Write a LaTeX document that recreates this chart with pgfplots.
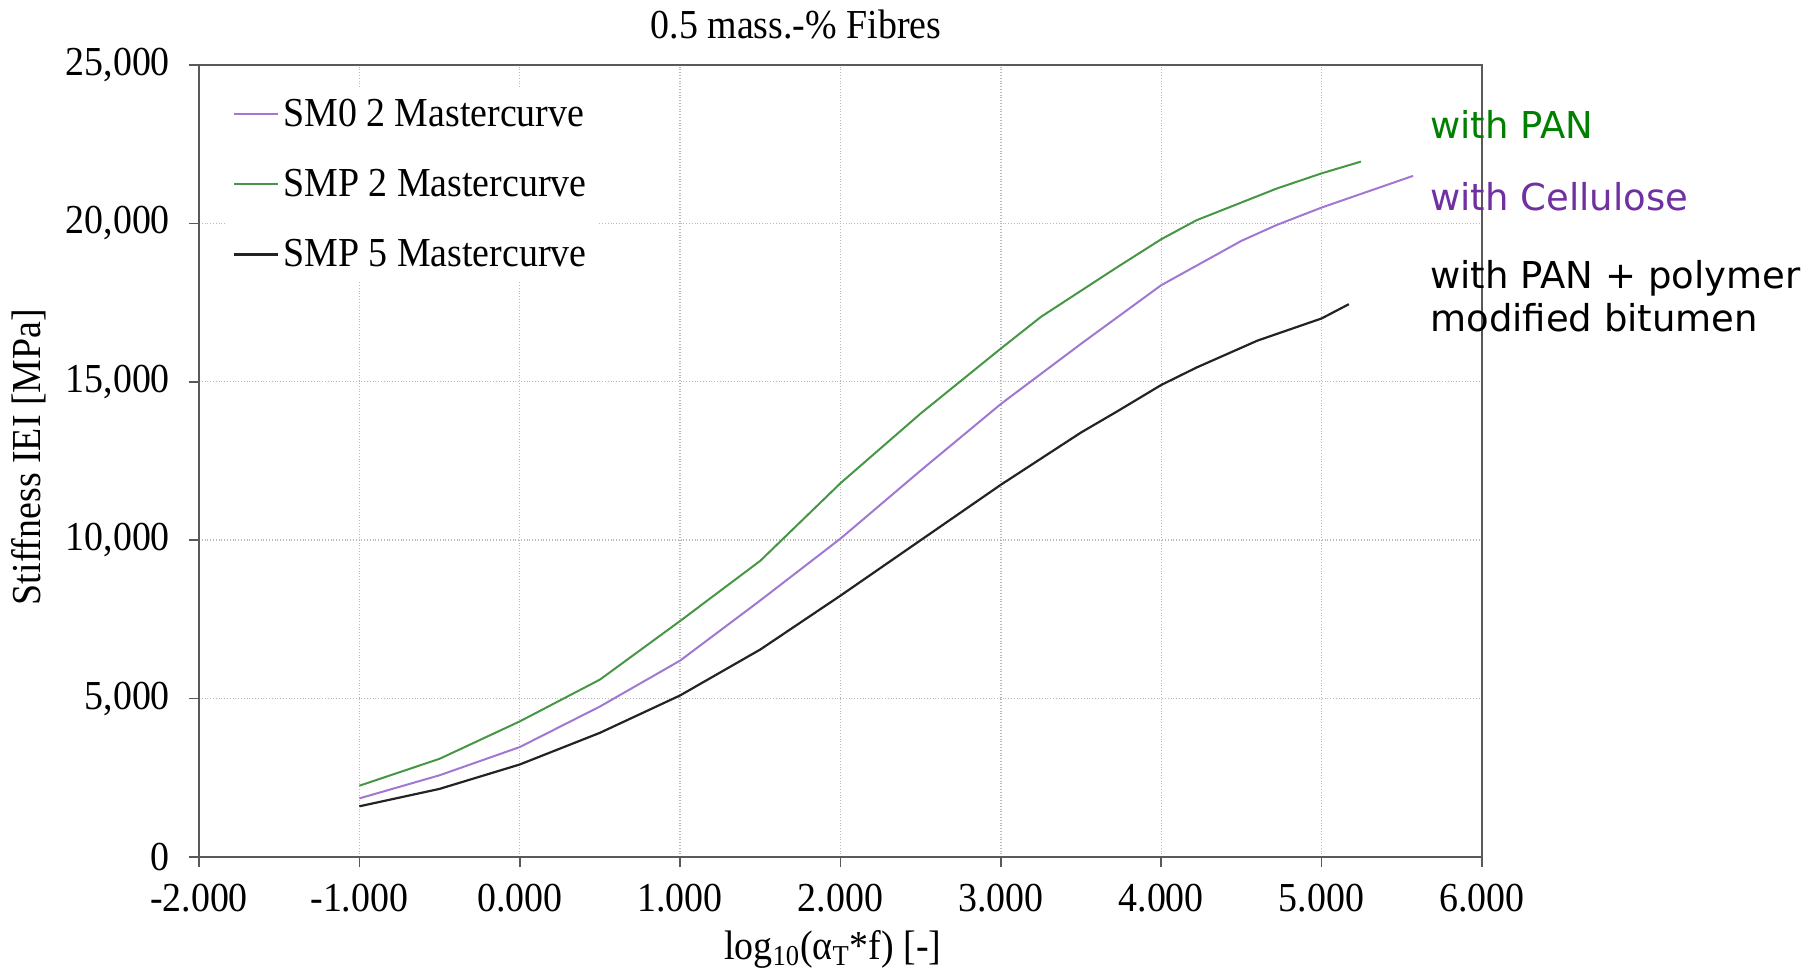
\documentclass[border=0pt]{standalone}
\usepackage{fontspec}
\setmainfont{Liberation Serif}[FakeStretch=0.92]
\newfontfamily\dejavu{DejaVu Sans}
\usepackage{pgfplots}
\pgfplotsset{compat=1.18}
\definecolor{cgreen}{RGB}{70,150,70}
\definecolor{cpurple}{RGB}{160,120,210}
\definecolor{cblack}{RGB}{35,35,35}
\definecolor{tgreen}{RGB}{0,128,0}
\definecolor{tpurple}{RGB}{112,48,160}
\newcommand{\fs}{\fontsize{20.6}{23}\selectfont}
\newcommand{\fa}{\dejavu\fontsize{18.5}{21.5}\selectfont}
\begin{document}
\begin{tikzpicture}
\useasboundingbox (-99.5pt,-59pt) rectangle (808pt,428.5pt);
\begin{axis}[
 at={(0,0)}, anchor=south west,
 width=641.5pt, height=396pt, scale only axis,
 xmin=-2, xmax=6, ymin=0, ymax=25000,
 xtick={-2,...,6}, ytick={0,5000,...,25000},
 scaled y ticks=false, scaled x ticks=false,
 font=\fs,
 x tick label style={font=\fs, yshift=-5pt, /pgf/number format/fixed, /pgf/number format/fixed zerofill, /pgf/number format/precision=3, /pgf/number format/assume math mode=true},
 y tick label style={font=\fs, xshift=-6pt, /pgf/number format/fixed, /pgf/number format/1000 sep={,}, /pgf/number format/assume math mode=true},
 grid=major,
 major grid style={densely dotted, gray!55, line width=0.7pt},
 axis line style={gray!70!black, line width=0.9pt},
 tick style={gray!70!black, line width=0.8pt},
 tick align=outside, major tick length=5pt,
 xtick pos=lower, ytick pos=left,
 xlabel={log\textsubscript{10}(α\textsubscript{T}*f) [-]},
 xlabel style={at={(axis description cs:0.494,-0.117)}, anchor=center, font=\fs},
 ylabel={Stiffness IEI [MPa]},
 ylabel style={at={(axis description cs:-0.1325,0.505)}, anchor=center, font=\fs},
 legend style={at={(axis description cs:0.02,0.973)}, anchor=north west, draw=none, fill=white, font=\fs, row sep=16pt, inner sep=4pt},
 legend cell align=left,
 legend image code/.code={\draw[#1] (0pt,0pt) -- (22pt,0pt);},
]
\addplot[cpurple, line width=1pt] coordinates {
(-1,1850) (-0.5,2580) (0,3470) (0.5,4750) (1,6200) (1.5,8100) (2,10050) (2.5,12200) (3,14300) (3.5,16200) (4,18050) (4.5,19450) (4.72,19950) (5,20500) (5.57,21500)};
\addlegendentry{SM0 2 Mastercurve}
\addplot[cgreen, line width=1pt] coordinates {
(-1,2250) (-0.5,3100) (0,4280) (0.5,5600) (1,7450) (1.5,9350) (2,11800) (2.5,14000) (3,16050) (3.25,17050) (3.72,18600) (4,19500) (4.22,20100) (4.72,21100) (5,21580) (5.245,21950)};
\addlegendentry{SMP 2 Mastercurve}
\addplot[cblack, line width=1.1pt] coordinates {
(-1,1600) (-0.5,2150) (0,2920) (0.5,3920) (1,5100) (1.5,6550) (2,8250) (2.5,10000) (3,11750) (3.5,13400) (3.72,14050) (4,14900) (4.22,15450) (4.6,16300) (5,17000) (5.17,17450)};
\addlegendentry{SMP 5 Mastercurve}
\end{axis}
\node[anchor=base, font=\fs] at (298.5pt,409pt) {0.5 mass.-\% Fibres};
\node[anchor=base west, inner sep=0pt, font=\fa, text=tgreen] at (615.5pt,359pt) {with PAN};
\node[anchor=base west, inner sep=0pt, font=\fa, text=tpurple] at (615.5pt,323pt) {with Cellulose};
\node[anchor=base west, inner sep=0pt, font=\fa, text=black] at (615.5pt,284pt) {with PAN + polymer};
\node[anchor=base west, inner sep=0pt, font=\fa, text=black] at (615.5pt,262.5pt) {modified bitumen};
\end{tikzpicture}
\end{document}
